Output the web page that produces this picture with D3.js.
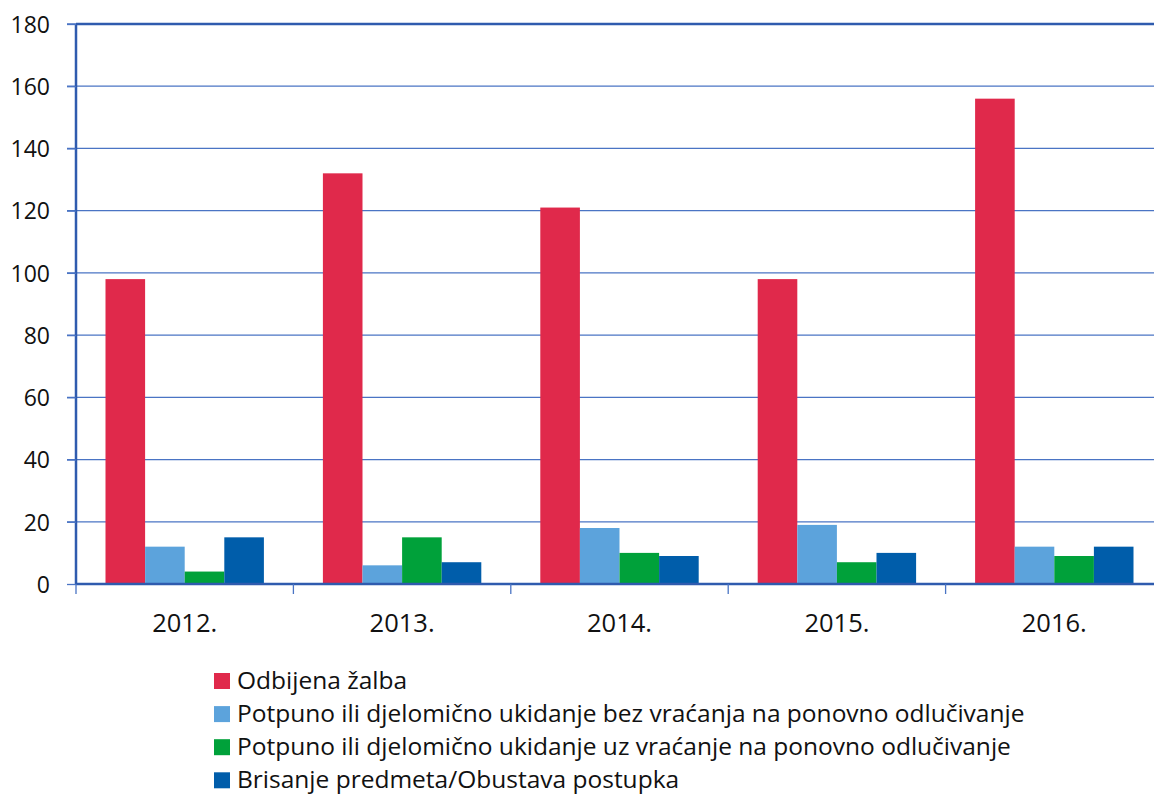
<!DOCTYPE html>
<html>
<head>
<meta charset="utf-8">
<script src="https://cdn.jsdelivr.net/npm/d3@7"></script>
<style>
  body { margin: 0; background: #fff; }
  svg { display: block; }
  svg text { font-family: "Open Sans", sans-serif; }
</style>
</head>
<body>
<div id="chart"></div>
<script>
const width = 1154;
const height = 796;
const marginTop = 24;
const marginLeft = 76;
const plotRight = 1163;
const plotBottom = 584;

const years = ["2012.", "2013.", "2014.", "2015.", "2016."];
const seriesNames = [
    "Odbijena žalba",
    "Potpuno ili djelomično ukidanje bez vraćanja na ponovno odlučivanje",
    "Potpuno ili djelomično ukidanje uz vraćanje na ponovno odlučivanje",
    "Brisanje predmeta/Obustava postupka"
];
const odbijena = [98, 132, 121, 98, 156];
const bezVracanja = [12, 6, 18, 19, 12];
const uzVracanje = [4, 15, 10, 7, 9];
const brisanje = [15, 7, 9, 10, 12];
const yTicks = [0, 20, 40, 60, 80, 100, 120, 140, 160, 180];

const colors = ["#e0294b", "#5ca3dc", "#00a13a", "#005daa"];
const axisColor = "#2f5bae";
const gridColor = "#4a74c4";

const seriesValues = [odbijena, bezVracanja, uzVracanje, brisanje];

const svg = d3.select("#chart").append("svg")
    .attr("width", width)
    .attr("height", height);

const x = d3.scaleBand()
    .domain(years)
    .range([marginLeft, plotRight])
    .paddingInner(0)
    .paddingOuter(0);

const xInner = d3.scaleBand()
    .domain(d3.range(seriesNames.length))
    .range([29.5, x.bandwidth() - 29.5]);

const y = d3.scaleLinear()
    .domain([0, 180])
    .range([plotBottom, marginTop]);

// grid lines
svg.append("g")
    .selectAll("line")
    .data(yTicks.filter(d => d > 0))
    .join("line")
    .attr("x1", marginLeft - 9)
    .attr("x2", plotRight)
    .attr("y1", d => y(d))
    .attr("y2", d => y(d))
    .attr("stroke", gridColor)
    .attr("stroke-width", 1.3);

// bars
const groups = svg.append("g")
    .selectAll("g")
    .data(years)
    .join("g")
    .attr("transform", d => `translate(${x(d)},0)`);

groups.selectAll("rect")
    .data((d, i) => seriesValues.map((vals, s) => ({s, v: vals[i]})))
    .join("rect")
    .attr("x", d => xInner(d.s))
    .attr("width", xInner.bandwidth())
    .attr("y", d => y(d.v))
    .attr("height", d => y(0) - y(d.v))
    .attr("fill", d => colors[d.s]);

// y axis
const yAxis = svg.append("g")
    .attr("transform", `translate(${marginLeft},0)`)
    .call(d3.axisLeft(y).tickValues(yTicks).tickSize(9).tickPadding(17));
yAxis.attr("font-family", null).attr("font-size", null);
yAxis.select(".domain").attr("stroke", axisColor).attr("stroke-width", 2.5)
    .attr("d", `M0,${marginTop}V${plotBottom}`);
yAxis.selectAll(".tick line").attr("stroke", gridColor).attr("stroke-width", 1.3);
yAxis.selectAll(".tick text")
    .attr("fill", "#111")
    .attr("dy", "0.36em")
    .style("font-size", "23px");

// x axis
const xAxis = svg.append("g")
    .attr("transform", `translate(0,${plotBottom})`)
    .call(d3.axisBottom(x).tickSize(0));
xAxis.attr("font-family", null).attr("font-size", null);
xAxis.select(".domain").attr("stroke", axisColor).attr("stroke-width", 2.5)
    .attr("d", `M${marginLeft},0H${plotRight}`);
xAxis.selectAll(".tick text")
    .attr("fill", "#111")
    .attr("y", 48)
    .attr("dy", null)
    .style("font-size", "25.5px");

xAxis.append("g")
    .selectAll("line")
    .data(years.concat([null]))
    .join("line")
    .attr("x1", d => d === null ? plotRight : x(d))
    .attr("x2", d => d === null ? plotRight : x(d))
    .attr("y1", 0)
    .attr("y2", 10)
    .attr("stroke", gridColor)
    .attr("stroke-width", 1.3);

// top border
svg.append("line")
    .attr("x1", marginLeft)
    .attr("x2", plotRight)
    .attr("y1", marginTop)
    .attr("y2", marginTop)
    .attr("stroke", axisColor)
    .attr("stroke-width", 2.5);

// legend
const legend = svg.append("g")
    .attr("transform", "translate(214,681)");

const items = legend.selectAll("g")
    .data(seriesNames)
    .join("g")
    .attr("transform", (d, i) => `translate(0,${i * 33.1})`);

items.append("rect")
    .attr("x", 0)
    .attr("y", -8)
    .attr("width", 16)
    .attr("height", 16)
    .attr("fill", (d, i) => colors[i]);

items.append("text")
    .attr("x", 23)
    .attr("y", 7.5)
    .attr("fill", "#111")
    .style("font-size", "24.5px")
    .text(d => d);
</script>
</body>
</html>
